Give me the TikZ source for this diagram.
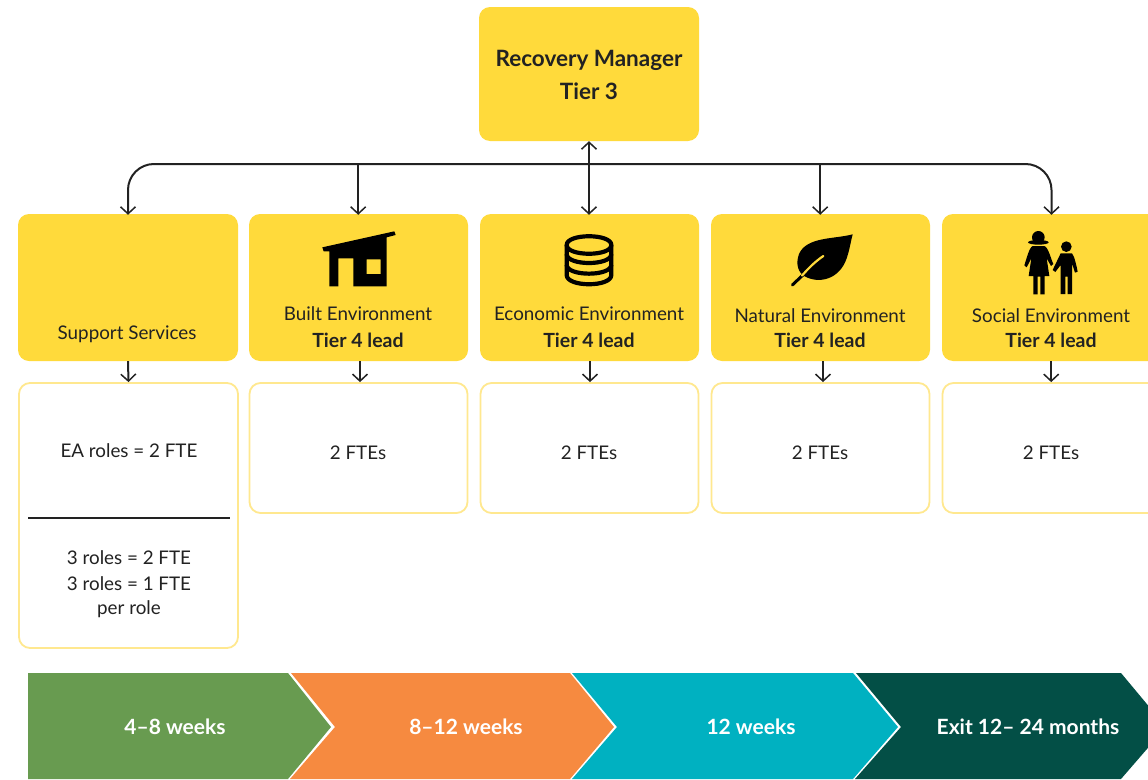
\documentclass[tikz,border=0pt]{standalone}
\usepackage{fontspec}
\setmainfont{Lato}
\usetikzlibrary{arrows.meta}
\definecolor{ybox}{HTML}{FFDA3B}
\definecolor{yline}{HTML}{FFE88F}
\definecolor{cgreen}{HTML}{689B50}
\definecolor{corange}{HTML}{F68A40}
\definecolor{cteal}{HTML}{00B1C1}
\definecolor{cdark}{HTML}{034F46}
\definecolor{ink}{HTML}{222222}
\tikzset{
 headbox/.style={fill=ybox,rounded corners=11pt,inner sep=0pt,minimum width=#1,minimum height=147pt},
 detailbox/.style={draw=yline,line width=1.8pt,fill=white,rounded corners=11pt,inner sep=0pt,minimum width=218pt,minimum height=#1},
 lab/.style={text=ink,font=\fontsize{18.8}{22}\selectfont,inner sep=0pt},
 blab/.style={text=ink,font=\fontsize{19.5}{24}\bfseries\selectfont,inner sep=0pt},
 toplab/.style={text=ink,font=\fontsize{22.5}{28}\bfseries\selectfont,inner sep=0pt},
 chev/.style={text=white,font=\fontsize{21}{24}\bfseries\selectfont,inner sep=0pt},
 conn/.style={draw=ink,line width=2pt,-{Straight Barb[length=7pt,width=15pt,line width=1.5pt]}},
 icon/.style={x=0.33333pt,y=-0.33333pt}
}
\begin{document}
\begin{tikzpicture}[x=1pt,y=-1pt]
\useasboundingbox (0,0) rectangle (1148,779);
\clip (0,0) rectangle (1148,779);
% chevrons
\fill[cgreen] (28,673) -- (288,673) -- (331,727) -- (288,779) -- (28,779) -- cycle;
\fill[corange] (291,673) -- (570,673) -- (614,727) -- (570,779) -- (290,779) -- (335,727) -- cycle;
\fill[cteal] (572,673) -- (853,673) -- (898,727) -- (853,779) -- (572,779) -- (617,727) -- cycle;
\fill[cdark] (856,673) -- (1121,673) -- (1166,727) -- (1121,779) -- (855,779) -- (901,727) -- cycle;
\node[chev] (c1) at (175,727) {4–8 weeks};
\node[chev] (c2) at (466,727) {8–12 weeks};
\node[chev] (c3) at (751,727) {12 weeks};
\node[chev] (c4) at (1028,727) {Exit 12– 24 months};
% boxes
\node[headbox=220pt,minimum height=134pt] (top) at (589,74) {};
\node[headbox=220pt] (sup) at (128,287.5) {};
\node[headbox=219pt] (bui) at (358.5,287.5) {};
\node[headbox=219pt] (eco) at (589.5,287.5) {};
\node[headbox=219pt] (nat) at (820.5,287.5) {};
\node[headbox=219pt] (soc) at (1051.5,287.5) {};
\node[detailbox=265pt,minimum width=219pt] (dsup) at (128.5,515.5) {};
\node[detailbox=130pt] (dbui) at (358.5,448) {};
\node[detailbox=130pt] (deco) at (589.5,448) {};
\node[detailbox=130pt] (dnat) at (820.5,448) {};
\node[detailbox=130pt] (dsoc) at (1051.5,448) {};
% connectors
\coordinate (bus) at (589,164);
\draw[conn,rounded corners=26pt] (bus) -| ([yshift=-1pt]sup.north);
\draw[conn,rounded corners=26pt] (bus) -| ([yshift=-1pt]soc.north);
\draw[conn] ([xshift=-.3pt]bus -| bui.north) -- ([xshift=-.3pt,yshift=-1pt]bui.north);
\draw[conn] ([xshift=-.3pt]bus -| nat.north) -- ([xshift=-.3pt,yshift=-1pt]nat.north);
\draw[conn,{Straight Barb[length=7pt,width=15pt,line width=1.5pt]}-{Straight Barb[length=7pt,width=15pt,line width=1.5pt]}] (top.south) -- ([xshift=-.5pt,yshift=-1pt]eco.north);
\draw[conn] (sup.south) -- (dsup.north);
\draw[conn] ([xshift=1.5pt]bui.south) -- ([xshift=1.5pt]dbui.north);
\draw[conn] ([xshift=.5pt]eco.south) -- ([xshift=.5pt]deco.north);
\draw[conn] ([xshift=2.5pt]nat.south) -- ([xshift=2.5pt]dnat.north);
\draw[conn] ([xshift=-.3pt]soc.south) -- ([xshift=-.3pt]dsoc.north);
% labels
\node[toplab] (t1) at (589,60) {Recovery Manager};
\node[toplab] (t2) at (589,91) {Tier 3};
\node[lab] (l0) at (127,334) {Support Services};
\node[lab] (l1) at (358,314) {Built Environment};
\node[blab] (b1) at (358,340) {Tier 4 lead};
\node[lab] (l2) at (589,314) {Economic Environment};
\node[blab] (b2) at (589,340) {Tier 4 lead};
\node[lab] (l3) at (820,316) {Natural Environment};
\node[blab] (b3) at (820,340) {Tier 4 lead};
\node[lab] (l4) at (1051,316) {Social Environment};
\node[blab] (b4) at (1051,340) {Tier 4 lead};
\node[lab] (d0) at (129,451) {EA roles = 2 FTE};
\coordinate (ruleL) at (28,518); \coordinate (ruleR) at (230,518);
\draw[ink,line width=1.5pt] (ruleL) -- (ruleR);
\node[lab] (d1) at (129,558) {3 roles = 2 FTE};
\node[lab] (d2) at (129,584) {3 roles = 1 FTE};
\node[lab] (d3) at (129,609) {per role};
\node[lab] (f1) at (358,453) {2 FTEs};
\node[lab] (f2) at (589,453) {2 FTEs};
\node[lab] (f3) at (820,453) {2 FTEs};
\node[lab] (f4) at (1051,453) {2 FTEs};
% house icon
\begin{scope}[shift={(250,130)},icon]
\fill[black,even odd rule] (217,352) -- (433,304) -- (437,315) -- (410,322) -- (410,469) -- (310,469) -- (310,385) -- (265,385) -- (265,469) -- (238,469) -- (238,364) -- (221,364) -- cycle
 (350,388) rectangle (392,432);
\end{scope}
% database icon
\begin{scope}[shift={(250,130)},icon]
\draw[black,line width=4.2pt,line join=round] (950,345) .. controls (950,310) and (1084,310) .. (1084,345) .. controls (1084,380) and (950,380) .. (950,345) -- cycle;
\draw[black,line width=4.2pt,line join=round] (950,345) -- (950,435) .. controls (950,472) and (1084,472) .. (1084,435) -- (1084,345);
\draw[black,line width=4.2pt] (950,372) .. controls (950,408) and (1084,408) .. (1084,372);
\draw[black,line width=4.2pt] (950,404) .. controls (950,440) and (1084,440) .. (1084,404);
\end{scope}
% leaf icon
\begin{scope}[shift={(700,130)},icon]
\fill[black] (458,313) .. controls (400,328) and (320,320) .. (297,372) .. controls (285,405) and (297,428) .. (312,438) .. controls (360,465) and (420,445) .. (440,385) .. controls (450,355) and (452,335) .. (458,313) -- cycle;
\draw[black,line width=3pt,line cap=round] (277,465) -- (312,432);
\draw[ybox,line width=2.2pt,line cap=round] (306,437) .. controls (325,415) and (345,395) .. (370,378);
\end{scope}
% people icon
\begin{scope}[shift={(700,130)},icon]
\fill[black] (1015,322) circle[radius=19];
\fill[black] (1015,337) ellipse[x radius=31,y radius=7];
\fill[black] (998,348) -- (1033,348) .. controls (1045,352) and (1052,385) .. (1060,402) -- (1053,408) -- (1040,385) -- (1048,438) -- (1034,438) -- (1034,493) -- (1021,493) -- (1021,440) -- (1013,440) -- (1013,493) -- (1000,493) -- (1000,438) -- (986,438) -- (994,385) -- (980,412) -- (973,406) .. controls (980,385) and (988,352) .. (998,348) -- cycle;
\fill[black] (1099,350) circle[radius=16];
\fill[black] (1082,370) -- (1116,370) .. controls (1124,380) and (1130,410) .. (1133,425) -- (1125,428) -- (1116,400) -- (1116,492) -- (1103,492) -- (1103,440) -- (1096,440) -- (1096,492) -- (1082,492) -- (1082,405) -- (1066,426) -- (1058,420) -- cycle;
\end{scope}
\end{tikzpicture}
\end{document}
